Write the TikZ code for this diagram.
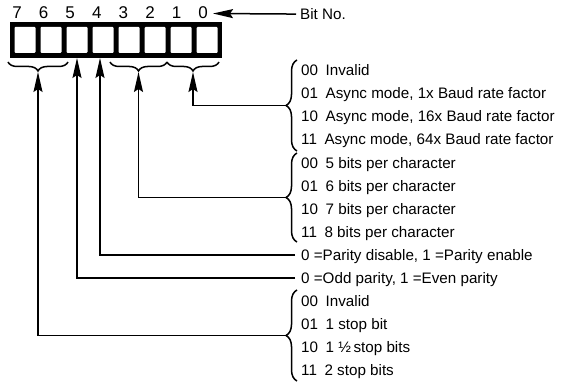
\documentclass[tikz,border=0pt]{standalone}
\usepackage{fontspec}
\setmainfont{Liberation Sans}
\usetikzlibrary{arrows.meta,decorations.pathreplacing}
\newcommand\codeln[2]{#1\hspace{0.5em}#2}
\begin{document}
\begin{tikzpicture}[x=1pt,y=-1pt,
  lbl/.style={anchor=base west,inner sep=0pt,font=\fontsize{15.2}{17}\selectfont},
  digit/.style={anchor=base,inner sep=0pt,font=\fontsize{17}{19}\selectfont},
  cell/.style={fill=white,draw=none,rounded corners=1pt,minimum width=21pt,minimum height=26pt,inner sep=0pt},
  conn/.style={line width=1.5pt},
  arr/.style={conn,-{Stealth[length=20pt,width=9pt,inset=3pt]}},
  brc/.style={line width=1.5pt,decorate,decoration={brace,amplitude=#1}},
]
\useasboundingbox (0,0) rectangle (562,385);
% register
\node[fill=black,minimum width=212pt,minimum height=36pt,inner sep=0pt] (reg) at (116,40) {};
\foreach \k in {0,...,7} {
  \node[cell] (c\k) at ({25+26*\k},40) {};
}
% bit numbers
\foreach \d [count=\i from 0] in {7,6,5,4,3,2,1,0} {
  \node[digit] (d\d) at ({17+26.6*\i},19) {\d};
}
\node[lbl] (bitno) at (300,19.5) {Bit No.};
\coordinate (bittip) at (213,13.5);
\draw[arr] ([xshift=-4pt]bitno.west) -- (bittip);

% braces under the register
\coordinate (u76a) at (68,62);  \coordinate (u76b) at (8,62);
\coordinate (u32a) at (167,62); \coordinate (u32b) at (110,62);
\coordinate (u10a) at (219,62); \coordinate (u10b) at (167,62);
\draw[brc=9] (u76a) -- (u76b);
\draw[brc=9] (u32a) -- (u32b);
\draw[brc=9] (u10a) -- (u10b);
\coordinate (u76) at (38,72);
\coordinate (u32) at (138.5,72);
\coordinate (u10) at (193,72);
\coordinate (a5) at (77,58);
\coordinate (a4) at (100,58);

% right-hand braces
\coordinate (r1a) at (297,151); \coordinate (r1b) at (297,60);
\coordinate (r2a) at (297,242); \coordinate (r2b) at (297,153);
\coordinate (r3a) at (297,381); \coordinate (r3b) at (297,290);
\draw[brc=11] (r1a) -- (r1b);
\draw[brc=11] (r2a) -- (r2b);
\draw[brc=11] (r3a) -- (r3b);
\coordinate (r1) at (286,105.5);
\coordinate (r2) at (286,197.5);
\coordinate (r3) at (286,335.5);
\coordinate (e4) at (295,255);
\coordinate (e5) at (295,278);

% texts
\node[lbl] (t1a) at (301,76)  {\codeln{00}{Invalid}};
\node[lbl] (t1b) at (301,99)  {\codeln{01}{Async mode, 1x Baud rate factor}};
\node[lbl] (t1c) at (301,122) {\codeln{10}{Async mode, 16x Baud rate factor}};
\node[lbl] (t1d) at (301,145) {\codeln{11}{Async mode, 64x Baud rate factor}};
\node[lbl] (t2a) at (301,168) {\codeln{00}{5 bits per character}};
\node[lbl] (t2b) at (301,191) {\codeln{01}{6 bits per character}};
\node[lbl] (t2c) at (301,214) {\codeln{10}{7 bits per character}};
\node[lbl] (t2d) at (301,237) {\codeln{11}{8 bits per character}};
\node[lbl] (t4)  at (301,260) {0 =Parity disable, 1 =Parity enable};
\node[lbl] (t5)  at (301,283) {0 =Odd parity, 1 =Even parity};
\node[lbl] (t3a) at (301,306) {\codeln{00}{Invalid}};
\node[lbl] (t3b) at (301,329) {\codeln{01}{1 stop bit}};
\node[lbl] (t3c) at (301,352) {\codeln{10}{1 ½\,stop bits}};
\node[lbl] (t3d) at (301,375) {\codeln{11}{2 stop bits}};

% connectors
\draw[arr] (r1) -| (u10);
\draw[arr] (r2) -| (u32);
\draw[arr] (e4) -| (a4);
\draw[arr] (e5) -| (a5);
\draw[arr] (r3) -| (u76);
\end{tikzpicture}
\end{document}
